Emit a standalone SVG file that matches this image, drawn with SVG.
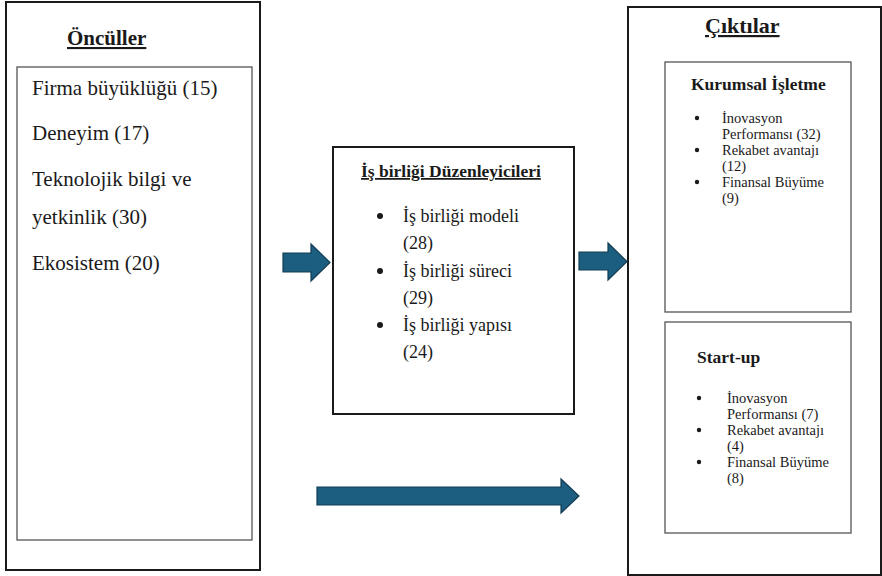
<svg xmlns="http://www.w3.org/2000/svg" width="882" height="576" viewBox="0 0 882 576">
<style>
.outer{fill:#fff;stroke:#1a1a1a;stroke-width:2}
.inner{fill:#fff;stroke:#555;stroke-width:1.3}
.h{font-weight:bold}
.u{text-decoration:underline}
.arr{fill:#1b5e80;stroke:#123d52;stroke-width:1.2}
</style>
<rect width="882" height="576" fill="#fff"/>
<g font-family="'Liberation Serif', 'DejaVu Serif', serif" fill="#1a1a1a">
<g id="onculler">
<rect class="outer" x="6" y="2" width="254" height="568"/>
<text class="h u" x="67" y="45" font-size="21">Öncüller</text>
<rect class="inner" x="17" y="67" width="235" height="473"/>
<g font-size="21">
<text x="32" y="95">Firma büyüklüğü (15)</text>
<text x="32" y="140">Deneyim (17)</text>
<text x="32" y="186">Teknolojik bilgi ve</text>
<text x="32" y="224">yetkinlik (30)</text>
<text x="32" y="270">Ekosistem (20)</text>
</g>
</g>
<g id="duzenleyiciler">
<rect class="outer" x="333" y="147" width="241" height="267"/>
<text class="h u" x="361" y="177" font-size="17.5">İş birliği Düzenleyicileri</text>
<circle cx="380" cy="216" r="3"/>
<circle cx="380" cy="271" r="3"/>
<circle cx="380" cy="325" r="3"/>
<g font-size="18">
<text x="403" y="222">İş birliği modeli</text>
<text x="403" y="249">(28)</text>
<text x="403" y="277">İş birliği süreci</text>
<text x="403" y="304">(29)</text>
<text x="403" y="331">İş birliği yapısı</text>
<text x="403" y="358">(24)</text>
</g>
</g>
<g id="ciktilar">
<rect class="outer" x="628" y="7" width="253" height="568"/>
<text class="h u" x="705" y="33" font-size="22">Çıktılar</text>
</g>
<g id="kurumsal">
<rect class="inner" x="665" y="62" width="186" height="250"/>
<text class="h" x="691" y="90" font-size="17.5">Kurumsal İşletme</text>
<circle cx="697" cy="118" r="2.2"/>
<circle cx="697" cy="150" r="2.2"/>
<circle cx="697" cy="182" r="2.2"/>
<g font-size="14.5">
<text x="722" y="123">İnovasyon</text>
<text x="722" y="139">Performansı (32)</text>
<text x="722" y="155">Rekabet avantajı</text>
<text x="722" y="171">(12)</text>
<text x="722" y="187">Finansal Büyüme</text>
<text x="722" y="203">(9)</text>
</g>
</g>
<g id="startup">
<rect class="inner" x="665" y="322" width="186" height="211"/>
<text class="h" x="697" y="363" font-size="17.5">Start-up</text>
<circle cx="699" cy="398" r="2.2"/>
<circle cx="699" cy="430" r="2.2"/>
<circle cx="699" cy="462" r="2.2"/>
<g font-size="14.5">
<text x="727" y="403">İnovasyon</text>
<text x="727" y="419">Performansı (7)</text>
<text x="727" y="435">Rekabet avantajı</text>
<text x="727" y="451">(4)</text>
<text x="727" y="467">Finansal Büyüme</text>
<text x="727" y="483">(8)</text>
</g>
</g>
</g>
<g id="connectors">
<path class="arr" d="M283,253 H311 V244 L330,262.5 L311,281 V272 H283 Z"/>
<path class="arr" d="M579,252 H608 V243 L627,261.5 L608,280 V270 H579 Z"/>
<path class="arr" d="M317,487 H561 V479 L579,496 L561,513 V505 H317 Z"/>
</g>
</svg>
